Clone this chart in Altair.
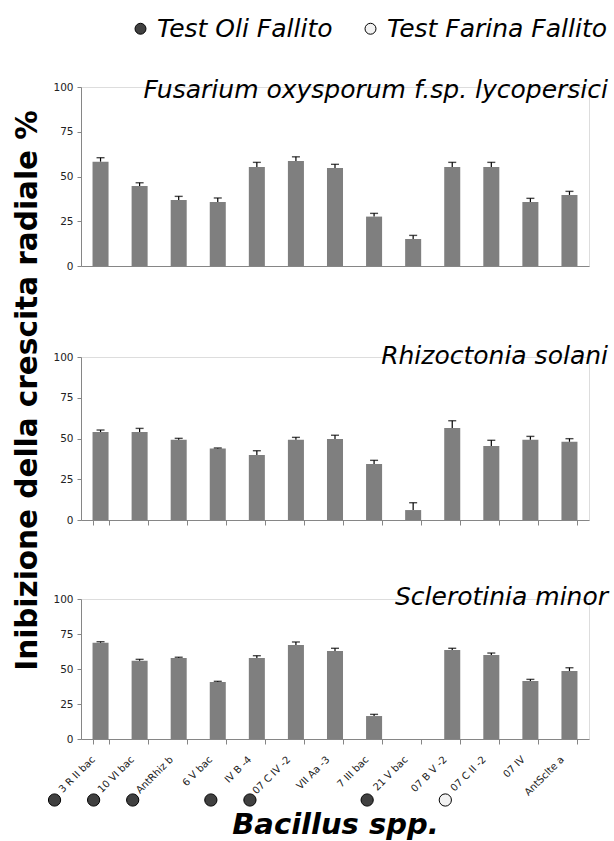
import altair as alt
import pandas as pd

# Bacillus strains on the x axis
strains = ["3 R II bac", "10 VI bac", "AntRhiz b", "6 V bac", "IV B -4", "07 C IV -2",
           "VII Aa -3", "7 III bac", "21 V bac", "07 B V -2", "07 C II -2", "07 IV", "AntSclte a"]

# Inhibition of radial growth (%), mean and standard error, one pair per pathogen
fusarium_mean = [58.3, 44.7, 36.9, 35.8, 55.3, 58.6, 54.7, 27.6, 15.1, 55.3, 55.3, 35.8, 39.7]
fusarium_err = [2.2, 1.8, 2.0, 2.2, 2.6, 2.4, 2.1, 1.8, 2.0, 2.6, 2.6, 2.0, 2.0]

rhizoctonia_mean = [54.0, 54.0, 49.3, 43.8, 39.9, 49.3, 49.7, 34.4, 6.1, 56.4, 45.4, 49.3, 48.0]
rhizoctonia_err = [1.2, 2.2, 0.8, 0.4, 2.6, 1.4, 2.3, 2.2, 4.5, 4.5, 3.5, 2.0, 1.9]

sclerotinia_mean = [68.8, 55.9, 57.9, 40.7, 57.9, 67.1, 62.9, 16.4, None, 63.6, 60.0, 41.4, 48.6]
sclerotinia_err = [0.7, 1.0, 0.5, 0.5, 1.6, 2.2, 1.9, 1.2, None, 1.2, 1.4, 1.2, 2.3]

pathogens = ["Fusarium oxysporum f.sp. lycopersici", "Rhizoctonia solani", "Sclerotinia minor"]

# Failed tests per strain
failed_test = ["Test Oli Fallito", "Test Oli Fallito", "Test Oli Fallito", None,
               "Test Oli Fallito", "Test Oli Fallito", None, None, "Test Oli Fallito",
               None, "Test Farina Fallito", None, None]
test_types = ["Test Oli Fallito", "Test Farina Fallito"]
test_fills = ["#404040", "#f2f2f2"]

y_ticks = [0, 25, 50, 75, 100]

FONT = "DejaVu Sans"
AXIS_GREY = "#868686"
BAR_GREY = "#7f7f7f"
PLOT_W = 508

x_scale = alt.Scale(domain=strains, paddingInner=0.59, paddingOuter=0.295)
y_scale = alt.Scale(domain=[0, 100], nice=False)


def y_axis(**extra):
    return alt.Axis(values=y_ticks, tickSize=4, tickColor=AXIS_GREY, domainColor=AXIS_GREY,
                    labelFont=FONT, labelFontSize=10.5, labelColor="#222222", labelPadding=4,
                    labelOverlap=False, grid=False, **extra)


def panel(means, errs, title, height, title_drop, x_axis, y_ax):
    df = pd.DataFrame({"ceppo": strains, "media": means, "err": errs}).dropna()
    df["sup"] = df["media"] + df["err"]
    base = alt.Chart(df)
    x = alt.X("ceppo:N", scale=x_scale, sort=strains, axis=x_axis, title=None)
    bars = base.mark_bar(color=BAR_GREY).encode(
        x=x, y=alt.Y("media:Q", scale=y_scale, axis=y_ax, title=None))
    stems = base.mark_rule(color="black", strokeWidth=1.2).encode(
        x=x, y=alt.Y("media:Q", scale=y_scale, axis=y_ax, title=None), y2="sup:Q")
    caps = base.mark_tick(color="black", thickness=1.4, size=8).encode(
        x=x, y=alt.Y("sup:Q", scale=y_scale, axis=y_ax, title=None))
    # pathogen name, right-aligned in the upper corner of the panel
    label = alt.Chart(pd.DataFrame({"patogeno": [title]})).mark_text(
        align="right", baseline="alphabetic", font=FONT, fontSize=25, fontStyle="italic",
        color="black"
    ).encode(text="patogeno:N", x=alt.value(PLOT_W + 19), y=alt.value(title_drop))
    return [bars, stems, caps, label], x, height


def build(layers, height, extra=()):
    return alt.layer(*layers, *extra).properties(width=PLOT_W, height=height)


top_layers, _, top_h = panel(
    fusarium_mean, fusarium_err, pathogens[0], 179, 11,
    alt.Axis(labels=False, ticks=False, domainColor=AXIS_GREY, title=None),
    y_axis())
top = build(top_layers, top_h)

mid_layers, _, mid_h = panel(
    rhizoctonia_mean, rhizoctonia_err, pathogens[1], 163, 7,
    alt.Axis(labels=False, ticks=True, tickBand="extent", tickSize=5,
             tickColor=AXIS_GREY, domainColor=AXIS_GREY, title=None),
    y_axis(title="Inibizione della crescita radiale %", titleFont=FONT,
           titleFontSize=29.5, titleFontWeight="bold", titleColor="black",
           titleAngle=270, titleBaseline="alphabetic", titleAlign="center",
           titleX=-45, titleY=33))
middle = build(mid_layers, mid_h)

bottom_axis = alt.Axis(labelAngle=-45, labelFont=FONT, labelFontSize=10, labelColor="#222222",
                       labelPadding=10, labelOffset=-11, tickBand="extent", tickSize=5,
                       tickColor=AXIS_GREY, domainColor=AXIS_GREY, title="Bacillus spp.",
                       titleFont=FONT, titleFontSize=29, titleFontWeight="bold",
                       titleFontStyle="italic", titleColor="black",
                       titleBaseline="alphabetic", titleY=94)
bot_layers, x_enc, bot_h = panel(sclerotinia_mean, sclerotinia_err, pathogens[2], 140, 6,
                                 bottom_axis, y_axis())

marks_df = pd.DataFrame({"ceppo": strains, "test": failed_test}).dropna()
markers = alt.Chart(marks_df).mark_point(
    shape="circle", filled=True, size=150, stroke="black", strokeWidth=1, opacity=1,
    xOffset=-46
).encode(
    x=x_enc,
    y=alt.value(bot_h + 61),
    fill=alt.Fill("test:N", scale=alt.Scale(domain=test_types, range=test_fills),
                  legend=alt.Legend(title=None, orient="none", legendX=47, legendY=-71,
                                    direction="horizontal", labelFont=FONT, labelFontSize=25,
                                    labelFontStyle="italic", labelColor="black",
                                    labelLimit=600, symbolType="circle", symbolSize=120,
                                    symbolStrokeColor="black", symbolStrokeWidth=1,
                                    symbolOpacity=1, labelOffset=4, columnPadding=25,
                                    padding=0)),
)
bottom = build(bot_layers, bot_h, [markers])

chart = alt.vconcat(
    top,
    alt.vconcat(middle, bottom, spacing=79, bounds="flush"),
    spacing=91, bounds="flush",
).properties(
    padding={"left": 11, "top": 16, "right": 2, "bottom": 0},
    background="white",
).configure_view(stroke=None).configure(font=FONT)

chart.save("out.html", embed_options={"renderer": "svg", "actions": False})
